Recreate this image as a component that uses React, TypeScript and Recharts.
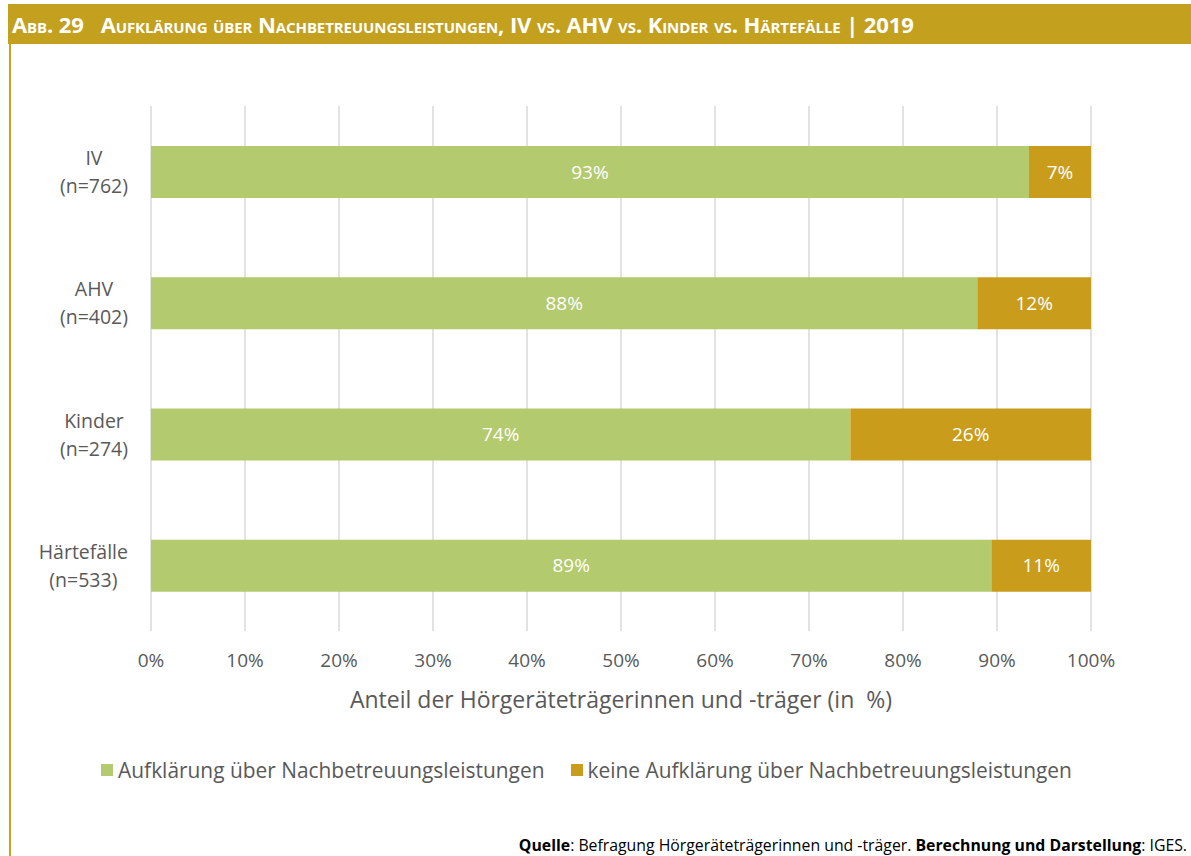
import React from 'react';
import { BarChart, Bar, XAxis, YAxis, CartesianGrid, LabelList, Legend } from 'recharts';

// values (share in %)
const groups = ['IV', 'AHV', 'Kinder', 'Härtefälle'];
const sampleSizes = ['(n=762)', '(n=402)', '(n=274)', '(n=533)'];
const informed = [93.4, 87.9, 74.4, 89.4];
const notInformed = [6.6, 12.1, 25.6, 10.6];
const xTicks = [0, 10, 20, 30, 40, 50, 60, 70, 80, 90, 100];

const seriesNames = ['Aufklärung über Nachbetreuungsleistungen', 'keine Aufklärung über Nachbetreuungsleistungen'];
const GREEN = '#B3CA6E';
const GOLD = '#C99D1B';
const TEXT = '#595959';
const FONT = '"Open Sans", "Noto Sans", sans-serif';
const CAT_SIZE = 19.5;

const data = groups.map((g, i) => ({
  group: g,
  n: sampleSizes[i],
  informed: informed[i],
  notInformed: notInformed[i],
}));

let ctx: CanvasRenderingContext2D | null = null;
const measure = (s: string) => {
  if (!ctx) ctx = document.createElement('canvas').getContext('2d');
  if (!ctx) return s.length * 10;
  ctx.font = `${CAT_SIZE}px ${FONT}`;
  return ctx.measureText(s).width;
};

// two-line label, lines centred within a block that is right-aligned at x=128
const CategoryTick = ({ y, payload }: any) => {
  const row = data.find((d) => d.group === payload.value);
  const n = row ? row.n : '';
  const w = Math.max(measure(payload.value), measure(n));
  const cx = 128 - w / 2;
  return (
    <g>
      <text x={cx} y={y - 14} textAnchor="middle" dominantBaseline="central" fill={TEXT} fontSize={CAT_SIZE} fontFamily={FONT}>
        {payload.value}
      </text>
      <text x={cx} y={y + 14} textAnchor="middle" dominantBaseline="central" fill={TEXT} fontSize={CAT_SIZE} fontFamily={FONT}>
        {n}
      </text>
    </g>
  );
};

const LegendContent = () => (
  <div style={{ display: 'flex', justifyContent: 'center', fontFamily: FONT, fontSize: 20.9, color: TEXT, paddingRight: 18 }}>
    {seriesNames.map((name, i) => (
      <div key={name} style={{ display: 'flex', alignItems: 'center', marginRight: i === 0 ? 26 : 0 }}>
        <span style={{ display: 'inline-block', width: 12, height: 12, background: i === 0 ? GREEN : GOLD, marginRight: 5 }} />
        <span>{name}</span>
      </div>
    ))}
  </div>
);

const pct = (v: any) => `${Math.round(Number(v))}%`;

export default function App() {
  return (
    <div style={{ position: 'absolute', left: 0, top: 0, width: 1191, height: 856, background: '#fff', overflow: 'hidden' }}>
      <div
        style={{
          position: 'absolute', left: 8, top: 4, width: 1183, height: 40, background: '#C3A11F',
          color: '#fff', fontFamily: FONT, fontWeight: 700, fontSize: 22, fontVariant: 'small-caps',
          lineHeight: '40px', paddingLeft: 4, boxSizing: 'border-box', whiteSpace: 'nowrap', letterSpacing: -0.1,
        }}
      >
        Abb. 29&nbsp;&nbsp; Aufklärung über Nachbetreuungsleistungen, IV vs. AHV vs. Kinder vs. Härtefälle | 2019
      </div>
      <div style={{ position: 'absolute', left: 9, top: 44, width: 2, height: 812, background: '#C9A11D' }} />

      <BarChart
        width={1191}
        height={856}
        data={data}
        layout="vertical"
        barSize={52}
        margin={{ top: 106, right: 100, left: 0, bottom: 136 }}
        style={{ position: 'absolute', left: 0, top: 0 }}
      >
        <CartesianGrid horizontal={false} stroke="#D9D9D9" strokeWidth={1.5} />
        <XAxis
          type="number"
          domain={[0, 100]}
          ticks={xTicks}
          tickFormatter={pct}
          axisLine={false}
          tickLine={false}
          tickMargin={17}
          height={89}
          tick={{ fill: TEXT, fontSize: 19, fontFamily: FONT }}
          label={{
            value: 'Anteil der Hörgeräteträgerinnen und -träger (in \u00A0%)',
            position: 'insideBottom',
            offset: 12,
            fill: TEXT,
            fontSize: 23,
            fontFamily: FONT,
          }}
        />
        <YAxis
          type="category"
          dataKey="group"
          width={151}
          axisLine={false}
          tickLine={false}
          tick={<CategoryTick />}
        />
        <Legend
          layout="horizontal"
          verticalAlign="middle"
          align="center"
          content={<LegendContent />}
          wrapperStyle={{ top: 756, left: 0, width: 1191 }}
        />
        <Bar dataKey="informed" stackId="a" fill={GREEN} isAnimationActive={false} name={seriesNames[0]}>
          <LabelList dataKey="informed" position="center" formatter={pct} fill="#fff" fontSize={19} fontFamily={FONT} />
        </Bar>
        <Bar dataKey="notInformed" stackId="a" fill={GOLD} isAnimationActive={false} name={seriesNames[1]}>
          <LabelList dataKey="notInformed" position="center" formatter={pct} fill="#fff" fontSize={19} fontFamily={FONT} />
        </Bar>
      </BarChart>

      <div
        style={{
          position: 'absolute', right: 4, top: 834, fontFamily: FONT, fontSize: 15.8, color: '#000', whiteSpace: 'nowrap',
        }}
      >
        <b>Quelle</b>: Befragung Hörgeräteträgerinnen und -träger. <b>Berechnung und Darstellung</b>: IGES.
      </div>
    </div>
  );
}
